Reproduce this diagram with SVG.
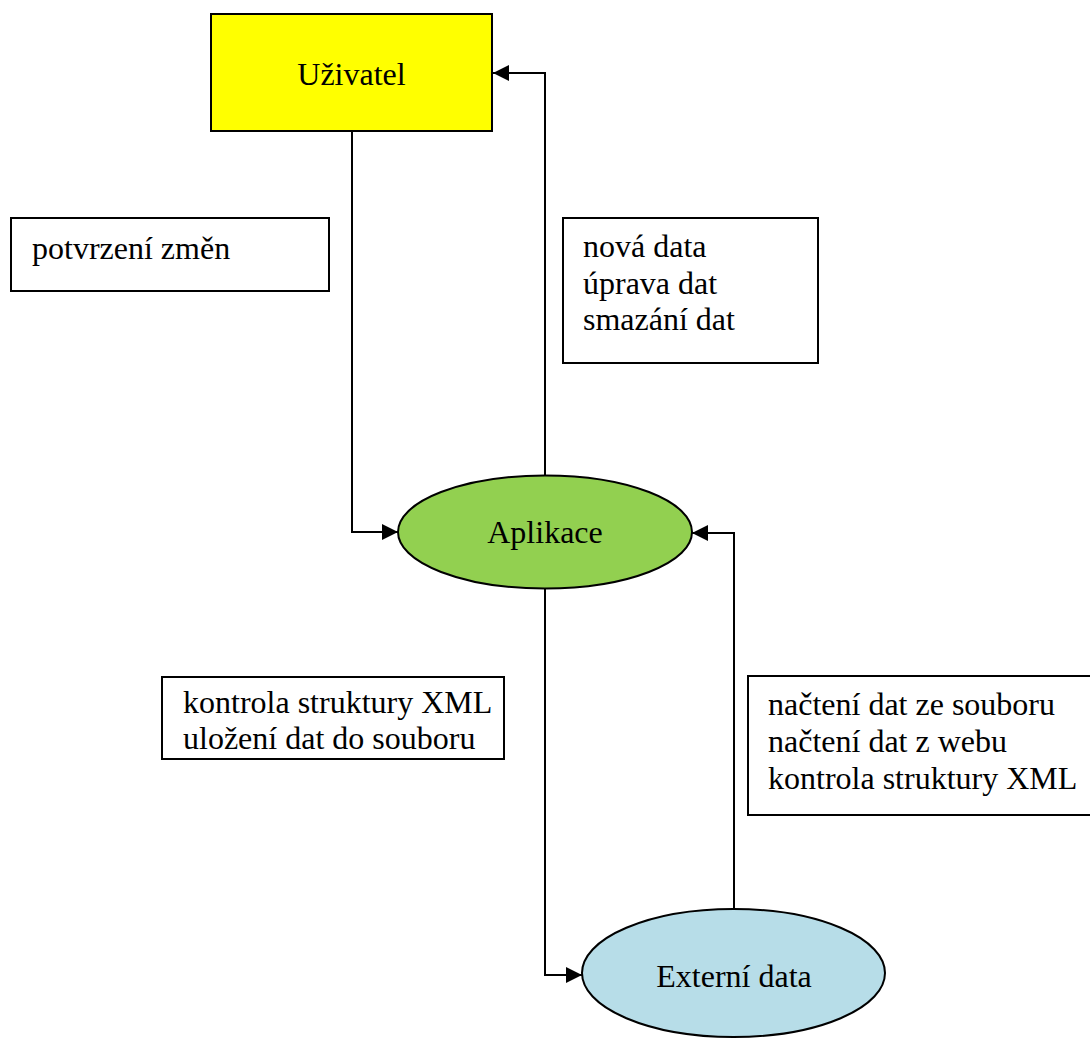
<svg xmlns="http://www.w3.org/2000/svg" width="1090" height="1039" viewBox="0 0 1090 1039">
  <style>
    text { font-family: "Liberation Serif", "Times New Roman", serif; font-size: 32px; fill: #000; }
    .node { stroke: #000; stroke-width: 2; }
    .label { fill: #fff; stroke: #000; stroke-width: 2; }
    .conn { fill: none; stroke: #000; stroke-width: 2; }
  </style>
  <defs>
    <marker id="arrow" markerWidth="16" markerHeight="16" refX="16" refY="8" orient="auto" markerUnits="userSpaceOnUse">
      <path d="M0,0 L16,8 L0,16 Z" fill="#000"/>
    </marker>
  </defs>

  <!-- connectors -->
  <g id="connectors">
    <path class="conn" d="M352,131 V532 H398" marker-end="url(#arrow)"/>
    <path class="conn" d="M545,475 V73 H493" marker-end="url(#arrow)"/>
    <path class="conn" d="M545,588 V975 H582" marker-end="url(#arrow)"/>
    <path class="conn" d="M734,909 V533 H692" marker-end="url(#arrow)"/>
  </g>

  <!-- nodes -->
  <g id="uzivatel">
    <rect class="node" x="211" y="14" width="281" height="117" fill="#ffff00"/>
    <text x="351.5" y="85" text-anchor="middle">Uživatel</text>
  </g>
  <g id="aplikace">
    <ellipse class="node" cx="545" cy="532" rx="147" ry="56.5" fill="#92d050"/>
    <text x="545" y="543" text-anchor="middle">Aplikace</text>
  </g>
  <g id="externi-data">
    <ellipse class="node" cx="733.5" cy="973" rx="151.5" ry="64" fill="#b7dde8"/>
    <text x="734" y="987" text-anchor="middle">Externí data</text>
  </g>

  <!-- connector labels -->
  <g id="label-potvrzeni">
    <rect class="label" x="11" y="218" width="318" height="73"/>
    <text x="32" y="259">potvrzení změn</text>
  </g>
  <g id="label-uprava">
    <rect class="label" x="563" y="218" width="255" height="145"/>
    <text x="583" y="257">nová data</text>
    <text x="583" y="293.5">úprava dat</text>
    <text x="583" y="330">smazání dat</text>
  </g>
  <g id="label-ulozeni">
    <rect class="label" x="162" y="677" width="342" height="82"/>
    <text x="183" y="713">kontrola struktury XML</text>
    <text x="183" y="749">uložení dat do souboru</text>
  </g>
  <g id="label-nacteni">
    <rect class="label" x="748" y="676" width="350" height="139"/>
    <text x="768" y="715">načtení dat ze souboru</text>
    <text x="768" y="752">načtení dat z webu</text>
    <text x="768" y="789">kontrola struktury XML</text>
  </g>
</svg>
